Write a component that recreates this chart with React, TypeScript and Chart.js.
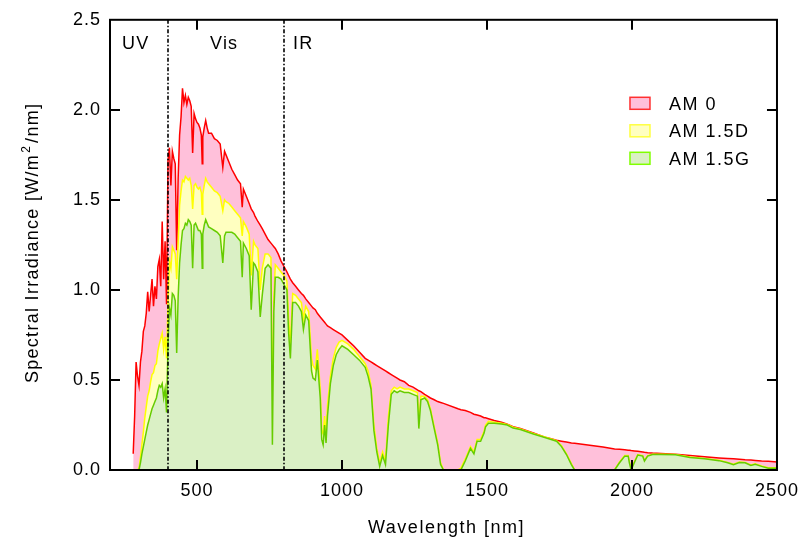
import { useEffect, useRef } from 'react';
import { Chart, registerables } from 'chart.js';

Chart.register(...registerables);

// ---- data ----
const wavelengths = [
  280, 285, 290, 295, 300, 305, 310, 315, 320, 325, 330, 335, 340, 345, 350, 355, 360, 365, 370, 375,
  380, 385, 390, 395, 400, 405, 410, 415, 420, 425, 430, 435, 440, 445, 450, 455, 460, 465, 470, 475,
  480, 485, 490, 495, 500, 505, 510, 515, 518, 520, 525, 530, 535, 540, 550, 560, 570, 580, 589, 595,
  600, 610, 620, 630, 640, 650, 656, 660, 670, 680, 687, 695, 700, 710, 718, 725, 735, 745, 755, 760,
  765, 770, 780, 790, 800, 810, 816, 822, 830, 840, 850, 860, 867, 875, 885, 895, 900, 908, 915, 925,
  930, 935, 940, 945, 950, 960, 970, 980, 990, 1000, 1020, 1040, 1060, 1080, 1090, 1100, 1110, 1120, 1130, 1140,
  1150, 1160, 1170, 1180, 1190, 1200, 1215, 1230, 1245, 1260, 1265, 1272, 1285, 1295, 1305, 1318, 1330, 1340, 1350, 1400,
  1410, 1425, 1443, 1455, 1466, 1478, 1490, 1495, 1505, 1525, 1550, 1570, 1590, 1615, 1660, 1705, 1740, 1757, 1774, 1791,
  1802, 1900, 1940, 1957, 1975, 1987, 1991, 1997, 2008, 2020, 2037, 2043, 2054, 2071, 2100, 2150, 2200, 2250, 2300, 2330,
  2350, 2370, 2390, 2410, 2425, 2447, 2470, 2500,
];

const am0 = [
  0.09, 0.30, 0.60, 0.52, 0.47, 0.60, 0.66, 0.77, 0.80, 0.87, 0.99, 0.88, 0.97, 1.06, 0.91, 1.02, 0.95, 1.13, 1.17, 1.02,
  1.38, 1.06, 1.27, 0.92, 1.72, 1.79, 1.58, 1.77, 1.73, 1.70, 1.22, 1.62, 1.86, 1.96, 2.12, 2.04, 2.08, 2.03, 2.07, 2.05,
  2.02, 1.76, 1.98, 1.95, 1.93, 1.92, 1.90, 1.86, 1.70, 1.85, 1.90, 1.94, 1.90, 1.87, 1.87, 1.84, 1.83, 1.81, 1.68, 1.77,
  1.75, 1.71, 1.67, 1.64, 1.61, 1.59, 1.46, 1.56, 1.52, 1.48, 1.45, 1.43, 1.41, 1.38, 1.36, 1.34, 1.31, 1.28, 1.26, 1.25,
  1.24, 1.23, 1.20, 1.16, 1.13, 1.10, 1.08, 1.06, 1.04, 1.02, 1.00, 0.98, 0.97, 0.95, 0.93, 0.91, 0.90, 0.89, 0.87, 0.85,
  0.84, 0.83, 0.82, 0.81, 0.80, 0.79, 0.78, 0.77, 0.76, 0.75, 0.72, 0.69, 0.655, 0.62, 0.61, 0.60, 0.59, 0.58, 0.57, 0.56,
  0.55, 0.54, 0.53, 0.52, 0.51, 0.50, 0.49, 0.47, 0.46, 0.445, 0.44, 0.435, 0.42, 0.41, 0.40, 0.39, 0.38, 0.375, 0.37, 0.34,
  0.335, 0.33, 0.32, 0.31, 0.305, 0.30, 0.29, 0.29, 0.285, 0.275, 0.265, 0.255, 0.24, 0.23, 0.205, 0.18, 0.165, 0.16, 0.155, 0.15,
  0.148, 0.128, 0.117, 0.115, 0.112, 0.11, 0.11, 0.108, 0.106, 0.104, 0.10, 0.098, 0.096, 0.094, 0.092, 0.087, 0.08, 0.073, 0.067, 0.064,
  0.062, 0.06, 0.057, 0.055, 0.053, 0.05, 0.048, 0.045,
];

const am15d = [
  0, 0, 0, 0, 0.01, 0.07, 0.14, 0.21, 0.29, 0.35, 0.41, 0.44, 0.49, 0.53, 0.54, 0.58, 0.59, 0.66, 0.70, 0.73,
  0.76, 0.67, 0.74, 0.62, 0.92, 1.16, 1.12, 1.24, 1.22, 1.20, 1.06, 1.26, 1.47, 1.55, 1.61, 1.60, 1.63, 1.62, 1.61, 1.62,
  1.58, 1.45, 1.58, 1.59, 1.57, 1.56, 1.57, 1.54, 1.42, 1.53, 1.58, 1.62, 1.60, 1.59, 1.57, 1.55, 1.54, 1.52, 1.44, 1.50,
  1.49, 1.48, 1.46, 1.44, 1.42, 1.40, 1.30, 1.38, 1.35, 1.31, 1.08, 1.27, 1.25, 1.23, 1.00, 1.12, 1.20, 1.20, 1.18, 0.18,
  0.95, 1.14, 1.12, 1.10, 1.08, 1.05, 0.84, 0.70, 0.98, 0.97, 0.95, 0.93, 0.84, 0.91, 0.88, 0.62, 0.58, 0.56, 0.67, 0.45,
  0.22, 0.20, 0.30, 0.19, 0.36, 0.52, 0.62, 0.68, 0.71, 0.72, 0.70, 0.67, 0.63, 0.59, 0.55, 0.47, 0.25, 0.12, 0.04, 0.10,
  0.05, 0.30, 0.44, 0.46, 0.45, 0.46, 0.45, 0.45, 0.44, 0.43, 0.25, 0.41, 0.41, 0.39, 0.34, 0.24, 0.15, 0.04, 0, 0,
  0.01, 0.06, 0.13, 0.10, 0.17, 0.17, 0.215, 0.25, 0.27, 0.265, 0.26, 0.253, 0.238, 0.228, 0.203, 0.18, 0.163, 0.135, 0.09, 0.035,
  0, 0, 0, 0.045, 0.08, 0.08, 0.045, 0.005, 0.045, 0.086, 0.08, 0.053, 0.08, 0.088, 0.088, 0.086, 0.072, 0.064, 0.054, 0.042,
  0.032, 0.045, 0.042, 0.028, 0.035, 0.022, 0.012, 0.012,
];

const am15g = [
  0, 0, 0, 0, 0, 0.04, 0.09, 0.13, 0.17, 0.21, 0.25, 0.28, 0.31, 0.34, 0.36, 0.38, 0.40, 0.44, 0.47, 0.46,
  0.48, 0.40, 0.45, 0.32, 0.70, 0.90, 0.86, 0.98, 0.97, 0.94, 0.65, 0.96, 1.15, 1.25, 1.33, 1.34, 1.37, 1.36, 1.39, 1.38,
  1.36, 1.12, 1.36, 1.37, 1.35, 1.33, 1.33, 1.31, 1.12, 1.31, 1.36, 1.39, 1.37, 1.35, 1.34, 1.33, 1.32, 1.30, 1.15, 1.30,
  1.32, 1.32, 1.32, 1.31, 1.29, 1.27, 1.07, 1.26, 1.23, 1.19, 0.89, 1.15, 1.14, 1.10, 0.85, 0.97, 1.12, 1.14, 1.12, 0.14,
  0.88, 1.07, 1.07, 1.06, 1.03, 1.00, 0.76, 0.62, 0.93, 0.93, 0.91, 0.88, 0.78, 0.86, 0.83, 0.55, 0.51, 0.50, 0.61, 0.40,
  0.17, 0.14, 0.25, 0.15, 0.30, 0.48, 0.58, 0.64, 0.67, 0.69, 0.67, 0.64, 0.61, 0.57, 0.52, 0.45, 0.22, 0.10, 0.02, 0.08,
  0.03, 0.25, 0.42, 0.44, 0.43, 0.44, 0.43, 0.43, 0.42, 0.41, 0.23, 0.39, 0.40, 0.38, 0.33, 0.23, 0.14, 0.03, 0, 0,
  0, 0.05, 0.12, 0.09, 0.16, 0.16, 0.205, 0.24, 0.26, 0.26, 0.255, 0.25, 0.233, 0.225, 0.20, 0.178, 0.16, 0.13, 0.086, 0.03,
  0, 0, 0, 0.04, 0.077, 0.077, 0.04, 0, 0.04, 0.083, 0.077, 0.05, 0.077, 0.086, 0.086, 0.084, 0.07, 0.062, 0.052, 0.04,
  0.03, 0.042, 0.04, 0.025, 0.032, 0.02, 0.01, 0.01,
];

const seriesLabels = ['AM 0', 'AM 1.5D', 'AM 1.5G'];
const xTickValues = [500, 1000, 1500, 2000, 2500];
const yTickValues = [0, 0.5, 1, 1.5, 2, 2.5];
const regionBounds = [400, 800];
const regionLabels = ['UV', 'Vis', 'IR'];

const FONT = '"Liberation Sans", Arial, Helvetica, sans-serif';
const lineColors = ['#ff0000', '#ffff00', '#66cc00'];
const fillColors = ['rgb(255,192,218)', 'rgb(255,255,192)', 'rgb(218,240,197)'];
const legendBorders = ['#ff3030', '#ffff40', '#80ff00'];

const overlayPlugin = {
  id: 'overlay',
  beforeDraw(chart: any) {
    chart.ctx.letterSpacing = '1px';
  },
  afterDatasetsDraw(chart: any) {
    const { ctx, chartArea: a, scales } = chart;
    const xs = scales.x;
    const ys = scales.y;
    ctx.save();
    // region separators (dash-dot)
    ctx.strokeStyle = '#000';
    ctx.lineWidth = 1.6;
    ctx.setLineDash([4, 2, 1.5, 2]);
    regionBounds.forEach((b) => {
      const px = Math.round(xs.getPixelForValue(b));
      ctx.beginPath();
      ctx.moveTo(px, a.top);
      ctx.lineTo(px, a.bottom);
      ctx.stroke();
    });
    ctx.setLineDash([]);
    // frame
    ctx.lineWidth = 2;
    ctx.strokeRect(a.left, a.top, a.right - a.left, a.bottom - a.top);
    // inward ticks on all four sides
    const tl = 10;
    ctx.beginPath();
    xTickValues.forEach((v) => {
      const px = Math.round(xs.getPixelForValue(v));
      if (px > a.left + 2 && px < a.right - 2) {
        ctx.moveTo(px, a.bottom);
        ctx.lineTo(px, a.bottom - tl);
        ctx.moveTo(px, a.top);
        ctx.lineTo(px, a.top + tl);
      }
    });
    yTickValues.forEach((v) => {
      const py = Math.round(ys.getPixelForValue(v));
      if (py > a.top + 2 && py < a.bottom - 2) {
        ctx.moveTo(a.left, py);
        ctx.lineTo(a.left + tl, py);
        ctx.moveTo(a.right, py);
        ctx.lineTo(a.right - tl, py);
      }
    });
    ctx.stroke();
    ctx.restore();
  },
  afterDraw(chart: any) {
    const { ctx, chartArea: a, scales } = chart;
    const xs = scales.x;
    ctx.save();
    ctx.fillStyle = '#000';
    ctx.textAlign = 'left';
    ctx.textBaseline = 'alphabetic';
    ctx.font = `18px ${FONT}`;
    ctx.letterSpacing = '1.2px';

    // region labels
    const l400 = xs.getPixelForValue(regionBounds[0]);
    const l800 = xs.getPixelForValue(regionBounds[1]);
    const labelY = a.top + 29;
    ctx.fillText(regionLabels[0], a.left + 12, labelY);
    ctx.fillText(regionLabels[1], l400 + 42, labelY);
    ctx.fillText(regionLabels[2], l800 + 9, labelY);

    // x title
    ctx.letterSpacing = '1.5px';
    ctx.textAlign = 'center';
    ctx.fillText('Wavelength [nm]', (a.left + a.right) / 2 + 3, a.bottom + 63);

    // y title with superscript
    ctx.textAlign = 'left';
    ctx.save();
    ctx.translate(38, (a.top + a.bottom) / 2 - 2);
    ctx.rotate(-Math.PI / 2);
    const p1 = 'Spectral Irradiance [W/m';
    const p2 = '2';
    const p3 = '/nm]';
    ctx.letterSpacing = '1.3px';
    ctx.font = `18px ${FONT}`;
    const w1 = ctx.measureText(p1).width;
    const w3 = ctx.measureText(p3).width;
    ctx.font = `12px ${FONT}`;
    const w2 = ctx.measureText(p2).width;
    const total = w1 + w2 + w3 + 3;
    let x = -total / 2;
    ctx.font = `18px ${FONT}`;
    ctx.fillText(p1, x, 0);
    x += w1 + 1;
    ctx.font = `12px ${FONT}`;
    ctx.fillText(p2, x, -8);
    x += w2 + 2;
    ctx.font = `18px ${FONT}`;
    ctx.fillText(p3, x, 0);
    ctx.restore();

    // legend
    ctx.font = `18px ${FONT}`;
    ctx.letterSpacing = '1.5px';
    const boxX = a.right - 147;
    chart.data.datasets.forEach((ds: any, i: number) => {
      const cy = a.top + 83.5 + i * 27.5;
      ctx.fillStyle = ds.backgroundColor;
      ctx.fillRect(boxX, cy - 6, 20, 12);
      ctx.strokeStyle = legendBorders[i];
      ctx.lineWidth = 1.5;
      ctx.strokeRect(boxX, cy - 6, 20, 12);
      ctx.fillStyle = '#000';
      ctx.fillText(ds.label, boxX + 39, cy + 6.5);
    });
    ctx.restore();
    ctx.letterSpacing = '0px';
  },
};

export default function App() {
  const canvasRef = useRef<HTMLCanvasElement | null>(null);

  useEffect(() => {
    document.body.style.margin = '0';
    const canvas = canvasRef.current;
    if (!canvas) return;
    const series = [am0, am15d, am15g];
    const chart = new Chart(canvas, {
      type: 'line',
      data: {
        datasets: series.map((vals, i) => ({
          label: seriesLabels[i],
          data: wavelengths.map((w, j) => ({ x: w, y: vals[j] })),
          borderColor: lineColors[i],
          backgroundColor: fillColors[i],
          borderWidth: 1.5,
          pointRadius: 0,
          tension: 0,
          fill: 'origin',
          order: 3 - i,
        })),
      },
      options: {
        responsive: false,
        animation: false,
        devicePixelRatio: 1,
        layout: { padding: { top: 16, right: 27, left: 0, bottom: 0 } },
        plugins: {
          legend: { display: false },
          tooltip: { enabled: false },
          filler: { propagate: false },
        },
        scales: {
          x: {
            type: 'linear',
            min: 200,
            max: 2500,
            grid: { display: false, drawTicks: false },
            border: { display: false },
            ticks: {
              font: { family: FONT, size: 18 },
              color: '#000',
              padding: 10,
              maxRotation: 0,
              callback: (v: any) => String(v),
            },
            afterBuildTicks: (scale: any) => {
              scale.ticks = xTickValues.map((v) => ({ value: v }));
            },
            afterFit: (scale: any) => {
              scale.height = 80;
            },
          },
          y: {
            type: 'linear',
            min: 0,
            max: 2.5,
            grid: { display: false, drawTicks: false },
            border: { display: false },
            ticks: {
              font: { family: FONT, size: 18 },
              color: '#000',
              padding: 9,
              stepSize: 0.5,
              callback: (v: any) => Number(v).toFixed(1),
            },
            afterBuildTicks: (scale: any) => {
              scale.ticks = yTickValues.map((v) => ({ value: v }));
            },
            afterFit: (scale: any) => {
              scale.width = 110;
            },
          },
        },
      },
      plugins: [overlayPlugin],
    });
    return () => chart.destroy();
  }, []);

  return (
    <div style={{ width: 807, height: 550 }}>
      <canvas ref={canvasRef} width={807} height={550} style={{ display: 'block' }} />
    </div>
  );
}
